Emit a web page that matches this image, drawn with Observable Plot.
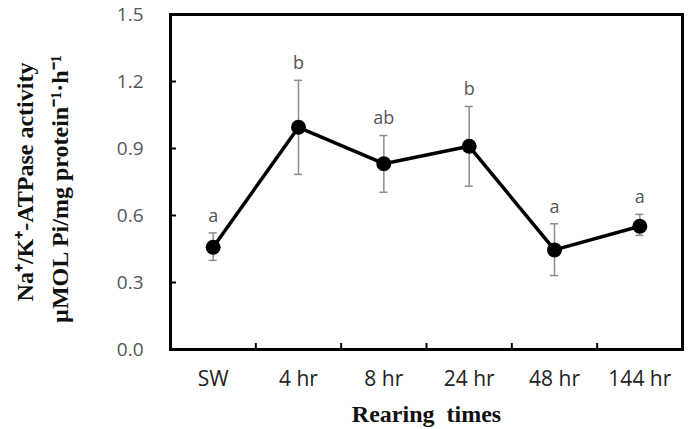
<!DOCTYPE html>
<html>
<head>
<meta charset="utf-8">
<script src="https://cdn.jsdelivr.net/npm/d3@7"></script>
<script src="https://cdn.jsdelivr.net/npm/@observablehq/plot@0.6"></script>
<style>
  html, body { margin: 0; padding: 0; background: #fff; }
</style>
</head>
<body>
<div id="chart"></div>
<script>
const categories = ["SW", "4 hr", "8 hr", "24 hr", "48 hr", "144 hr"];
const means = [0.458, 0.995, 0.832, 0.910, 0.446, 0.552];
const upper = [0.522, 1.205, 0.958, 1.088, 0.563, 0.605];
const lower = [0.399, 0.784, 0.704, 0.731, 0.331, 0.511];
const letters = ["a", "b", "ab", "b", "a", "a"];
const yTicks = [0, 0.3, 0.6, 0.9, 1.2, 1.5];
const yTitle1 = "Na\u207A/K\u207A-ATPase activity";
const yTitle2 = "\u00B5MOL Pi/mg protein\u207B\u00B9\u00B7h\u207B\u00B9";
const xTitle = "Rearing  times";

const data = categories.map((c, i) => ({
  i, c, mean: means[i], hi: upper[i], lo: lower[i], letter: letters[i]
}));
const idx = categories.map((_, i) => i);
const bounds = categories.slice(1).map((_, i) => i + 0.5);
const capHalf = 0.047;

const W = 698, H = 429;
const mL = 170, mR = 16, mT = 14, mB = 80;
const frameH = H - mT - mB;
const frameW = W - mL - mR;

const chart = Plot.plot({
  width: W,
  height: H,
  marginLeft: mL,
  marginRight: mR,
  marginTop: mT,
  marginBottom: mB,
  style: { background: "#fff" },
  x: { type: "linear", domain: [-0.5, categories.length - 0.5] },
  y: { domain: [0, 1.5] },
  marks: [
    Plot.axisY({
      ticks: yTicks, tickSize: 0, tickPadding: 27, tickFormat: d3.format(".1f"),
      fontSize: 19, fontFamily: "Open Sans", fill: "#555", label: null
    }),
    Plot.axisX({
      ticks: idx, tickSize: 0, tickPadding: 22, tickFormat: (i) => categories[i],
      fontSize: 21, fontFamily: "Open Sans", fill: "#222", label: null
    }),
    Plot.ruleY(yTicks, { stroke: "black", strokeWidth: 2, insetRight: frameW - 6 }),
    Plot.ruleX(bounds, { stroke: "black", strokeWidth: 2, insetTop: frameH - 6 }),
    Plot.ruleX(data, { x: "i", y1: "lo", y2: "hi", stroke: "#8c8c8c", strokeWidth: 1.5 }),
    Plot.ruleY(data, { y: "hi", x1: (d) => d.i - capHalf, x2: (d) => d.i + capHalf, stroke: "#8c8c8c", strokeWidth: 1.5 }),
    Plot.ruleY(data, { y: "lo", x1: (d) => d.i - capHalf, x2: (d) => d.i + capHalf, stroke: "#8c8c8c", strokeWidth: 1.5 }),
    Plot.line(data, { x: "i", y: "mean", stroke: "black", strokeWidth: 3.5 }),
    Plot.dot(data, { x: "i", y: "mean", r: 7.5, fill: "black", stroke: "none" }),
    Plot.text(data, { x: "i", y: "hi", text: "letter", dy: -17, fontSize: 18, fontFamily: "Open Sans", fill: "#555" }),
    Plot.frame({ stroke: "black", strokeWidth: 3 }),
    Plot.text([yTitle1], { frameAnchor: "left", textAnchor: "middle", dx: -145, rotate: -90, fontSize: 24, fontWeight: "bold", fontFamily: "Liberation Serif", fill: "#111" }),
    Plot.text([yTitle2], { frameAnchor: "left", textAnchor: "middle", dx: -110, dy: 7, rotate: -90, fontSize: 24, fontWeight: "bold", fontFamily: "Liberation Serif", fill: "#111" }),
    Plot.text([xTitle], { frameAnchor: "bottom", dy: 72, fontSize: 24, fontWeight: "bold", fontFamily: "Liberation Serif", fill: "#111" })
  ]
});
document.getElementById("chart").appendChild(chart);
</script>
</body>
</html>
